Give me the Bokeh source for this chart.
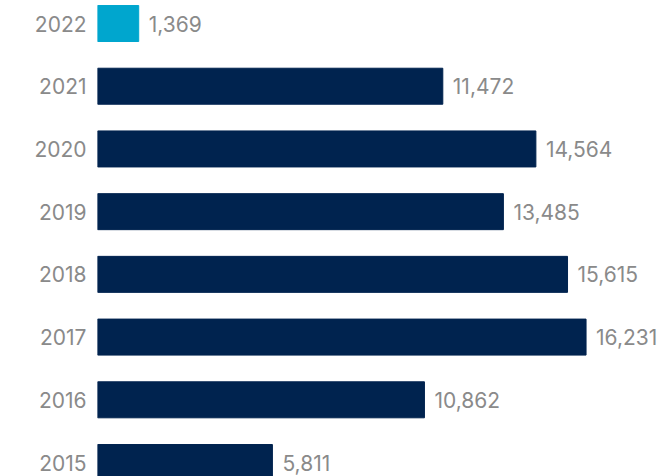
from bokeh.plotting import figure
from bokeh.models import Range1d, FixedTicker, ColumnDataSource
from bokeh.core.properties import value
from bokeh.embed import file_html
from bokeh.resources import INLINE

years = ["2015", "2016", "2017", "2018", "2019", "2020", "2021", "2022"]
counts = [5811, 10862, 16231, 15615, 13485, 14564, 11472, 1369]
colors = ["#00234F"] * 7 + ["#00A6CE"]

pos = list(range(len(years)))
labels = [f"{v:,}" for v in counts]

src = ColumnDataSource(dict(y=pos, v=counts, c=colors, lab=labels))

FONT = "Inter"
GRAY = "#8a8a8a"

p = figure(width=664, height=476, output_backend="svg", toolbar_location=None,
           x_range=Range1d(0, 18837), y_range=Range1d(-0.223, 7.367),
           min_border_left=97, min_border_right=0, min_border_top=0, min_border_bottom=0)

p.hbar(y="y", right="v", left=0, height=0.574, color="c", source=src)
p.text(x="v", y="y", text="lab", source=src, x_offset=10, text_baseline="middle",
       text_align="left", text_font=value(FONT), text_font_size="21px", text_color=GRAY)

p.xaxis.visible = False
p.yaxis.ticker = FixedTicker(ticks=pos)
p.yaxis.major_label_overrides = {i: y for i, y in zip(pos, years)}
p.yaxis.axis_line_color = None
p.yaxis.major_tick_line_color = None
p.yaxis.minor_tick_line_color = None
p.yaxis.major_tick_out = 0
p.yaxis.major_tick_in = 0
p.yaxis.major_label_standoff = 11
p.yaxis.major_label_text_font = FONT
p.yaxis.major_label_text_font_size = "21px"
p.yaxis.major_label_text_color = GRAY
p.xgrid.visible = False
p.ygrid.visible = False
p.outline_line_color = None

open("out.html", "w").write(file_html(p, INLINE))
